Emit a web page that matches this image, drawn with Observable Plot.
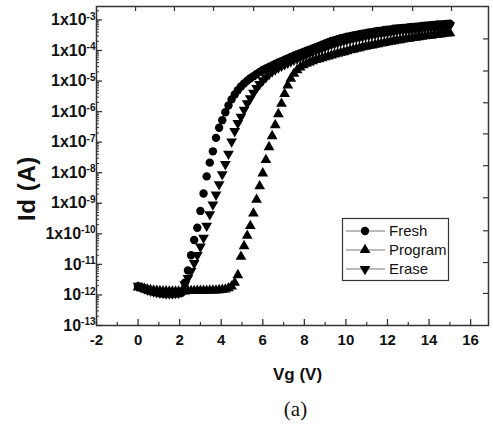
<!DOCTYPE html>
<html><head><meta charset="utf-8">
<script src="https://cdn.jsdelivr.net/npm/d3@7"></script>
<script src="https://cdn.jsdelivr.net/npm/@observablehq/plot@0.6"></script>
<style>
body{margin:0;background:#fff;}
#chart svg{display:block;}
</style>
</head><body><div id="chart"></div>
<script>
// Gate voltage sweep (V)
const vg = [
0,0.15,0.3,0.45,0.6,0.75,0.9,1.05,1.2,1.35,
1.5,1.65,1.8,1.95,2.1,2.25,2.4,2.55,2.7,2.85,
3.0,3.15,3.3,3.45,3.6,3.75,3.9,4.05,4.2,4.35,
4.5,4.65,4.8,4.95,5.1,5.25,5.4,5.55,5.7,5.85,
6.0,6.15,6.3,6.45,6.6,6.75,6.9,7.05,7.2,7.35,
7.5,7.65,7.8,7.95,8.1,8.25,8.4,8.55,8.7,8.85,
9.0,9.15,9.3,9.45,9.6,9.75,9.9,10.05,10.2,10.35,
10.5,10.65,10.8,10.95,11.1,11.25,11.4,11.55,11.7,11.85,
12.0,12.15,12.3,12.45,12.6,12.75,12.9,13.05,13.2,13.35,
13.5,13.65,13.8,13.95,14.1,14.25,14.4,14.55,14.7,14.85,
15.0];

// log10(Id / A)
const freshLogId = [
-11.72,-11.76,-11.8,-11.84,-11.87,-11.9,-11.92,-11.94,-11.95,-11.96,
-11.96,-11.96,-11.95,-11.95,-11.93,-11.6,-11.2,-10.7,-10.2,-9.8,
-9.25,-8.68,-8.12,-7.67,-7.3,-6.86,-6.53,-6.28,-6.02,-5.8,
-5.6,-5.44,-5.3,-5.18,-5.08,-4.99,-4.91,-4.84,-4.77,-4.7,
-4.64,-4.59,-4.54,-4.49,-4.44,-4.39,-4.35,-4.3,-4.26,-4.21,
-4.17,-4.13,-4.09,-4.05,-4.01,-3.97,-3.93,-3.89,-3.85,-3.81,
-3.77,-3.73,-3.69,-3.66,-3.63,-3.6,-3.58,-3.55,-3.53,-3.51,
-3.49,-3.47,-3.45,-3.43,-3.41,-3.4,-3.38,-3.36,-3.35,-3.33,
-3.32,-3.31,-3.29,-3.28,-3.27,-3.26,-3.25,-3.24,-3.23,-3.22,
-3.21,-3.2,-3.19,-3.18,-3.17,-3.16,-3.15,-3.15,-3.14,-3.13,
-3.12];

const programLogId = [
-11.75,-11.78,-11.8,-11.82,-11.84,-11.85,-11.86,-11.87,-11.88,-11.88,
-11.89,-11.89,-11.89,-11.89,-11.88,-11.88,-11.87,-11.87,-11.87,-11.86,
-11.86,-11.86,-11.86,-11.85,-11.85,-11.85,-11.84,-11.83,-11.82,-11.78,
-11.72,-11.6,-11.35,-10.75,-10.4,-10.06,-9.74,-9.33,-8.88,-8.44,
-8.02,-7.58,-7.16,-6.8,-6.44,-6.08,-5.74,-5.42,-5.14,-4.92,
-4.76,-4.64,-4.55,-4.48,-4.43,-4.39,-4.35,-4.31,-4.28,-4.25,
-4.22,-4.19,-4.16,-4.13,-4.1,-4.07,-4.05,-4.02,-3.99,-3.97,
-3.94,-3.92,-3.89,-3.87,-3.85,-3.83,-3.81,-3.79,-3.77,-3.75,
-3.73,-3.71,-3.69,-3.67,-3.66,-3.64,-3.62,-3.61,-3.59,-3.58,
-3.56,-3.55,-3.53,-3.52,-3.51,-3.49,-3.48,-3.47,-3.45,-3.44,
-3.43];

const eraseLogId = [
-11.7,-11.75,-11.79,-11.83,-11.86,-11.89,-11.91,-11.93,-11.94,-11.95,
-11.95,-11.95,-11.94,-11.93,-11.9,-11.65,-11.45,-11.22,-10.96,-10.7,
-10.42,-10.13,-9.74,-9.36,-9.04,-8.72,-8.38,-8.05,-7.72,-7.38,
-6.98,-6.64,-6.38,-6.17,-5.94,-5.73,-5.57,-5.39,-5.23,-5.1,
-4.98,-4.88,-4.78,-4.69,-4.62,-4.56,-4.5,-4.45,-4.4,-4.35,
-4.3,-4.26,-4.21,-4.17,-4.12,-4.08,-4.04,-4.0,-3.96,-3.92,
-3.88,-3.84,-3.8,-3.77,-3.74,-3.71,-3.68,-3.65,-3.63,-3.6,
-3.58,-3.56,-3.54,-3.52,-3.5,-3.48,-3.46,-3.44,-3.43,-3.41,
-3.4,-3.38,-3.37,-3.35,-3.34,-3.33,-3.32,-3.31,-3.3,-3.29,
-3.28,-3.27,-3.26,-3.25,-3.24,-3.23,-3.22,-3.21,-3.2,-3.19,
-3.18];

const seriesNames = ["Fresh", "Program", "Erase"];

// Axis ticks and labels
const xTicks = [-2,0,2,4,6,8,10,12,14,16];
const xMinorTicks = [-1,1,3,5,7,9,11,13,15];
const topTicks = [-0.12,1.75,3.63,5.56,7.48,9.41,11.28,13.21,15.08];
const yTickExps = [-13,-12,-11,-10,-9,-8,-7,-6,-5,-4,-3];
const yTickBases = ["10","10","10","1x10","1x10","1x10","1x10","1x10","1x10","1x10","1x10"];
const yTickSups = ["-13","-12","-11","-10","-9","-8","-7","-6","-5","-4","-3"];
const rightTickExps = [-3.62,-4.67,-5.71,-6.73,-7.77,-8.82,-9.9,-10.94,-11.95];
const xLabel = "Vg (V)";
const yLabel = "Id (A)";
const caption = "(a)";

// layout
const W = 493, H = 425, mT = 6, mB = 100, mL = 96, mR = 5;
const frameW = W - mL - mR, frameH = H - mT - mB;
const FONT = "'Liberation Sans', Arial, Helvetica, sans-serif";
const AXIS = "#333";

const triangleDown = {
  draw(context, size) {
    const sqrt3 = Math.sqrt(3);
    const y = -Math.sqrt(size / (sqrt3 * 3));
    context.moveTo(0, -y * 2);
    context.lineTo(-sqrt3 * y, y);
    context.lineTo(sqrt3 * y, y);
    context.closePath();
  }
};

const mk = (logs, name) => vg.map((v, i) => ({vg: v, id: Math.pow(10, logs[i]), series: name}));
const fresh = mk(freshLogId, seriesNames[0]);
const program = mk(programLogId, seriesNames[1]);
const erase = mk(eraseLogId, seriesNames[2]);

const yMinor = [];
for (let e = -13; e < -2; e++) for (let m = 2; m <= 9; m++) { const v = m * Math.pow(10, e); if (v < Math.pow(10, -2.56)) yMinor.push(v); }

const chart = Plot.plot({
  width: W, height: H,
  marginTop: mT, marginBottom: mB, marginLeft: mL, marginRight: mR,
  style: {fontFamily: FONT, background: "#fff", overflow: "visible"},
  x: {domain: [-2, 16.86], axis: null},
  y: {type: "log", domain: [1e-13, Math.pow(10, -2.56)], axis: null},
  marks: [
    Plot.ruleX(xTicks, {stroke: AXIS, strokeWidth: 1.3, insetTop: frameH - 6}),
    Plot.ruleX(xMinorTicks, {stroke: AXIS, strokeWidth: 1.2, insetTop: frameH - 3}),
    Plot.ruleX(topTicks, {stroke: AXIS, strokeWidth: 1.2, insetBottom: frameH - 5}),
    Plot.ruleY(yTickExps.map(e => Math.pow(10, e)), {stroke: AXIS, strokeWidth: 1.3, insetRight: frameW - 6}),
    Plot.ruleY(yMinor, {stroke: AXIS, strokeWidth: 1, insetRight: frameW - 3}),
    Plot.ruleY(rightTickExps.map(e => Math.pow(10, e)), {stroke: AXIS, strokeWidth: 1.2, insetLeft: frameW - 5}),
    Plot.frame({stroke: AXIS, strokeWidth: 1.5}),
    Plot.dot(fresh, {x: "vg", y: "id", symbol: "circle", r: 4.2, fill: "#000", stroke: "none"}),
    Plot.dot(program, {x: "vg", y: "id", symbol: "triangle", r: 4, fill: "#000", stroke: "none"}),
    Plot.dot(erase, {x: "vg", y: "id", symbol: triangleDown, r: 4, fill: "#000", stroke: "none"}),
    Plot.text(xTicks, {x: d => d, frameAnchor: "bottom", dy: 15, text: d => String(d), lineAnchor: "middle",
      fontSize: 15, fontWeight: "bold", fill: "#111"}),
    Plot.text(yTickExps, {y: d => Math.pow(10, d), frameAnchor: "left", dx: -1, text: (d, i) => yTickBases[i],
      textAnchor: "end", lineAnchor: "middle", fontSize: 16, fontWeight: "bold", fill: "#111"}),
    Plot.text([xLabel], {frameAnchor: "bottom", dx: 5, dy: 49, text: d => d, lineAnchor: "middle",
      fontSize: 17, fontWeight: "bold", fill: "#111"}),
    Plot.text([caption], {frameAnchor: "bottom", dx: 3, dy: 84, text: d => d, lineAnchor: "middle",
      fontSize: 21, fill: "#111", fontFamily: "'Liberation Serif', 'Times New Roman', serif"})
  ]
});

document.getElementById("chart").appendChild(chart);

// superscript exponents on y tick labels (found by position, left of the frame)
const svg = d3.select(chart);
const svgRect = chart.getBoundingClientRect();
const yLabNodes = [];
svg.selectAll("text").each(function() {
  const t = this.textContent;
  const r = this.getBoundingClientRect();
  if ((t === "10" || t === "1x10") && r.right - svgRect.left < mL + 2 && r.top - svgRect.top < H - mB + 2) yLabNodes.push(this);
});
yLabNodes.sort((a, b) => b.getBoundingClientRect().top - a.getBoundingClientRect().top);
yLabNodes.forEach((node, i) => {
  d3.select(node).append("tspan").attr("dy", "-0.55em").attr("font-size", 10).text(yTickSups[i]);
});

// y axis title
svg.append("text")
  .attr("transform", `translate(27,${mT + frameH / 2 + 23}) rotate(-90)`)
  .attr("text-anchor", "middle").attr("dy", "0.35em")
  .attr("font-family", FONT).attr("font-size", 24).attr("font-weight", "bold")
  .attr("letter-spacing", 0.6).attr("fill", "#111").text(yLabel);

// legend (inside plot frame)
const lg = svg.append("g").attr("font-family", FONT).attr("text-anchor", "start");
lg.append("rect").attr("x", 342.5).attr("y", 218.5).attr("width", 106).attr("height", 62)
  .attr("fill", "#fff").attr("stroke", "#333").attr("stroke-width", 1.2);
const legendSymbols = [d3.symbolCircle, d3.symbolTriangle, triangleDown];
const legendSizes = [Math.PI * 4.2 * 4.2, Math.PI * 16, Math.PI * 16];
seriesNames.forEach((name, i) => {
  const cy = 231 + i * 19;
  lg.append("line").attr("x1", 346).attr("x2", 385).attr("y1", cy).attr("y2", cy)
    .attr("stroke", "#777").attr("stroke-width", 1);
  lg.append("path").attr("transform", `translate(365,${cy})`)
    .attr("d", d3.symbol(legendSymbols[i], legendSizes[i])()).attr("fill", "#000");
  lg.append("text").attr("x", 389).attr("y", cy).attr("dy", "0.35em").attr("text-anchor", "start")
    .attr("font-size", 15).attr("fill", "#111").text(name);
});
</script>
</body></html>
